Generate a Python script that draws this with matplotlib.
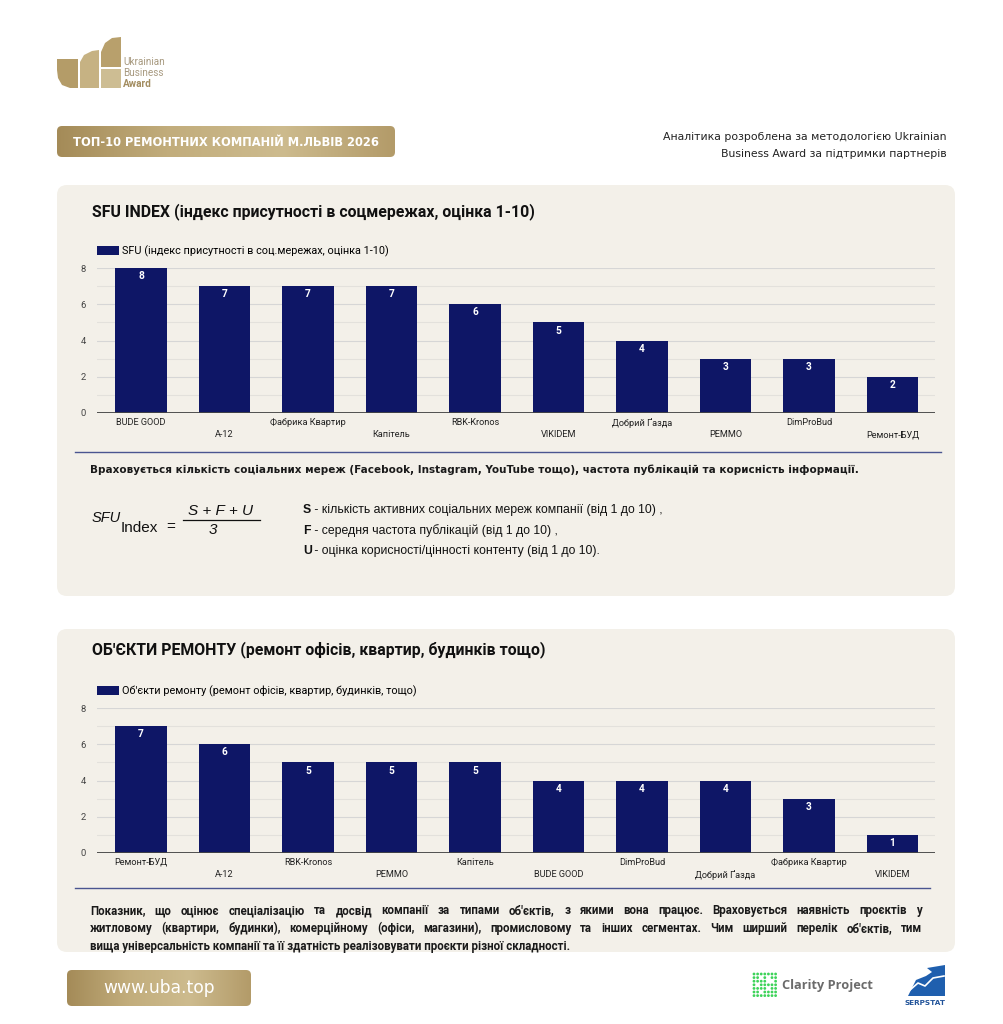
import numpy as np
import matplotlib
matplotlib.use('Agg')
import matplotlib.pyplot as plt
from matplotlib.patches import FancyBboxPatch, Polygon, Rectangle
from matplotlib.colors import LinearSegmentedColormap
from matplotlib.ticker import MultipleLocator

W, H = 1004, 1024

# ---- data ----
sfu_companies = ['BUDE GOOD', 'A-12', 'Фабрика Квартир', 'Капітель', 'RBK-Kronos',
                 'VIKIDEM', 'Добрий Ґазда', 'РЕММО', 'DimProBud', 'Ремонт-БУД']
sfu_values = [8, 7, 7, 7, 6, 5, 4, 3, 3, 2]

obj_companies = ['Ремонт-БУД', 'A-12', 'RBK-Kronos', 'РЕММО', 'Капітель',
                 'BUDE GOOD', 'DimProBud', 'Добрий Ґазда', 'Фабрика Квартир', 'VIKIDEM']
obj_values = [7, 6, 5, 5, 5, 4, 4, 4, 3, 1]

sfu_legend = 'SFU (індекс присутності в соц.мережах, оцінка 1-10)'
obj_legend = "Об'єкти ремонту (ремонт офісів, квартир, будинків, тощо)"

NAVY = '#0e1666'
PANEL = '#f3f0e9'
GOLD_CMAP = LinearSegmentedColormap.from_list('gold', ['#a48b58', '#c2ad7c', '#cdbb8e', '#b39b69'])


def fig_rect(l, t, r, b):
    return [l / W, 1 - b / H, (r - l) / W, (b - t) / H]


fig = plt.figure(figsize=(W / 100, H / 100), dpi=100)
fig.patch.set_facecolor('white')

# background layer in pixel coordinates
bg = fig.add_axes([0, 0, 1, 1])
bg.set_xlim(0, W)
bg.set_ylim(H, 0)
bg.axis('off')
bg.set_zorder(0)


def rounded(l, t, r, b, color, rad=8, z=1):
    p = FancyBboxPatch((l + rad, t + rad), (r - l) - 2 * rad, (b - t) - 2 * rad,
                       boxstyle=f'round,pad={rad}', fc=color, ec='none', zorder=z)
    bg.add_patch(p)
    return p


def gold_box(l, t, r, b, rad=5):
    p = rounded(l, t, r, b, 'none', rad=rad, z=2)
    grad = np.linspace(0, 1, 256).reshape(1, -1)
    im = bg.imshow(grad, cmap=GOLD_CMAP, extent=(l, r, b, t), aspect='auto', zorder=2)
    im.set_clip_path(p)
    bg.set_xlim(0, W)
    bg.set_ylim(H, 0)


# ---- header ----
bg.add_patch(Polygon([(57, 59), (78, 59), (78, 88), (70, 88), (62, 85), (58, 78), (57, 70)],
                     closed=True, fc='#b49c68', ec='none'))
bg.add_patch(Polygon([(80, 88), (80, 62), (84, 55), (92, 51), (99, 50), (99, 88)],
                     closed=True, fc='#c6b283', ec='none'))
bg.add_patch(Polygon([(101, 67), (101, 52), (105, 43), (112, 38), (121, 37), (121, 67)],
                     closed=True, fc='#b8a06c', ec='none'))
bg.add_patch(Rectangle((101, 69), 20, 19, fc='#cdbd93', ec='none'))
bg.text(123, 62, 'Ukrainian', fontsize=7.2, color='#a89a80', va='center', family='Roboto')
bg.text(123, 73, 'Business', fontsize=7.2, color='#a89a80', va='center', family='Roboto')
bg.text(123, 84, 'Award', fontsize=7.2, color='#a38d60', va='center', family='Roboto', weight='bold')

gold_box(57, 126, 395, 157)
bg.text(73, 142, 'ТОП-10 РЕМОНТНИХ КОМПАНІЙ М.ЛЬВІВ 2026', fontsize=8.3, color='white',
        weight='bold', va='center', family='DejaVu Sans', zorder=3)

bg.text(947, 137, 'Аналітика розроблена за методологією Ukrainian', ha='right', va='center',
        fontsize=7.8, color='#222222', family='DejaVu Sans')
bg.text(947, 154, 'Business Award за підтримки партнерів', ha='right', va='center',
        fontsize=7.8, color='#222222', family='DejaVu Sans')

# ---- panels ----
rounded(57, 185, 955, 596, PANEL, rad=10)
rounded(57, 629, 955, 952, PANEL, rad=10)

bg.text(92, 212, 'SFU INDEX (індекс присутності в соцмережах, оцінка 1-10)', fontsize=11.4,
        weight='bold', va='center', family='Roboto', color='#111111')
bg.text(92, 650, "ОБ'ЄКТИ РЕМОНТУ (ремонт офісів, квартир, будинків тощо)", fontsize=11.4,
        weight='bold', va='center', family='Roboto', color='#111111')

bg.plot([75, 941], [452, 452], color='#4a5590', lw=1)
bg.plot([75, 930], [888, 888], color='#4a5590', lw=1)

bg.text(90, 470, 'Враховується кількість соціальних мереж (Facebook, Instagram, YouTube тощо), '
        'частота публікацій та корисність інформації.', fontsize=7.5, weight='bold',
        va='center', family='DejaVu Sans', color='#1a1a1a')

# formula
fkw = dict(family='Liberation Sans', color='#111111', va='center')
bg.text(92, 518, 'SFU', fontsize=10.5, style='italic', **fkw)
bg.text(121, 528, 'Index', fontsize=11, **fkw)
bg.text(166, 527, '=', fontsize=11, **fkw)
bg.text(221, 511, 'S + F + U', fontsize=11, style='italic', ha='center', **fkw)
bg.plot([183, 260], [520, 520], color='#111111', lw=0.9)
bg.text(213, 530, '3', fontsize=11, style='italic', ha='center', **fkw)

legend_lines = [('S', ' - кількість активних соціальних мереж компанії (від 1 до 10) ,'),
                ('F', ' - середня частота публікацій (від 1 до 10) ,'),
                ('U', ' - оцінка корисності/цінності контенту (від 1 до 10).')]
for k, (sym, rest) in enumerate(legend_lines):
    y = 510 + k * 20.5
    bg.text(303, y, sym, fontsize=8.8, weight='bold', **fkw)
    bg.text(311, y, rest, fontsize=8.8, **fkw)

# justified paragraph
para = ["Показник, що оцінює спеціалізацію та досвід компанії за типами об'єктів, з якими вона працює. Враховується наявність проєктів у",
        "житловому (квартири, будинки), комерційному (офіси, магазини), промисловому та інших сегментах. Чим ширший перелік об'єктів, тим",
        "вища універсальність компанії та її здатність реалізовувати проєкти різної складності."]
pkw = dict(fontsize=8.3, weight='bold', va='baseline', color='#1a1a1a', family='Roboto')
renderer = fig.canvas.get_renderer()
for k, line in enumerate(para):
    y = 914 + k * 18
    if k == len(para) - 1:
        bg.text(90, y, line, **pkw)
        continue
    words = line.split()
    texts = [bg.text(0, y, w, **pkw) for w in words]
    widths = [t.get_window_extent(renderer).width for t in texts]
    gap = (922 - 90 - sum(widths)) / (len(words) - 1)
    x = 90
    for t, w in zip(texts, widths):
        t.set_x(x)
        x += w + gap

# ---- footer ----
gold_box(67, 970, 251, 1006)
bg.text(159, 988, 'www.uba.top', fontsize=12.3, color='white', ha='center', va='center',
        family='DejaVu Sans', zorder=3)

# clarity dots
rows = ['1111111', '1101011', '1111001', '1011111', '1111011', '1101111', '1111111']
for r, row in enumerate(rows):
    for c, ch in enumerate(row):
        if ch == '1':
            bg.add_patch(plt.Circle((754 + c * 3.6, 974 + r * 3.6), 1.4, color='#3ed35a', lw=0))
bg.text(782, 985, 'Clarity Project', fontsize=9.2, weight='bold', color='#6b6b6b',
        va='center', family='Open Sans')
bg.add_patch(Polygon([(908, 996), (916, 980), (926, 976), (932, 972), (927, 968), (945, 965),
                      (945, 996)], closed=True, fc='#1f5fae', ec='none'))
bg.plot([910, 918, 925, 933, 944], [990, 983, 986, 978, 976], color='white', lw=1.2)
bg.text(925, 1003, 'SERPSTAT', fontsize=5.2, weight='bold', color='#22549a', ha='center',
        va='center', family='DejaVu Sans')


# ---- charts ----
def bar_chart(rect, companies, values, legend_label):
    ax = fig.add_axes(fig_rect(*rect))
    ax.set_zorder(2)
    ax.patch.set_alpha(0)
    x = np.arange(len(companies))
    bars = ax.bar(x, values, width=0.62, color=NAVY, label=legend_label, zorder=3)
    ax.bar_label(bars, padding=-9.5, color='white', fontsize=7.3, weight='bold', family='Roboto')
    ax.set_xlim(-0.527, 9.509)
    ax.set_ylim(0, 8)
    ax.yaxis.set_major_locator(MultipleLocator(2))
    ax.yaxis.set_minor_locator(MultipleLocator(1))
    ax.grid(axis='y', which='major', color='#d6d6d6', lw=0.8, zorder=0)
    ax.grid(axis='y', which='minor', color='#e3e1dc', lw=0.8, zorder=0)
    ax.axhline(0, color='#444444', lw=1.3, zorder=4)
    for s in ax.spines.values():
        s.set_visible(False)
    ax.set_xticks(x)
    ax.set_xticklabels(companies, fontsize=6.6, family='Roboto', color='#222222')
    for i, t in enumerate(ax.xaxis.get_major_ticks()):
        t.set_pad(12.5 if i % 2 else 3.5)
    ax.tick_params(axis='x', length=0)
    ax.tick_params(axis='y', which='both', length=0, labelsize=6.8, labelcolor='#444444', pad=8)
    for lbl in ax.get_yticklabels():
        lbl.set_family('Roboto')
    ax.legend(loc='lower left', bbox_to_anchor=(0.0, 1.075), frameon=False, handlelength=2.0,
              handleheight=0.9, handletextpad=0.35, borderaxespad=0, borderpad=0,
              prop={'family': 'Roboto', 'size': 7.8})
    return ax


bar_chart((97, 268, 935, 413), sfu_companies, sfu_values, sfu_legend)
bar_chart((97, 708, 935, 853), obj_companies, obj_values, obj_legend)

fig.savefig('out.png', dpi=100, facecolor='white')
